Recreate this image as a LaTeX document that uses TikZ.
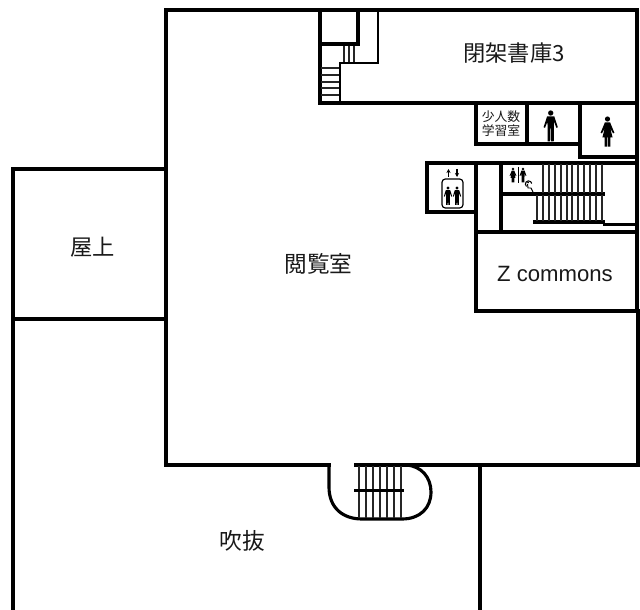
\documentclass[tikz,border=0pt]{standalone}
\usepackage{fontspec}
\usetikzlibrary{arrows.meta}
\setmainfont{Liberation Sans}
\newfontfamily\jp{Noto Sans CJK JP}
\tikzset{
  wall/.style={line width=2.35pt,line cap=rect,line join=miter,draw=black},
  midwall/.style={line width=2pt,draw=black},
  tread/.style={line width=0.8pt,draw=black!85},
  label/.style={inner sep=0pt,text=black!90}
}
\newcommand{\man}[3]{% x,y(head centre),scale
  \begin{scope}[shift={(#1,#2)},scale=#3]
    \fill (0,0) circle (2.8);
    \fill (-3.8,3.6) -- (3.8,3.6) -- (7.5,15) -- (6,15.6) -- (3.4,9) -- (3.2,30) -- (0.5,30) -- (0.3,16) -- (-0.3,16) -- (-0.5,30) -- (-3.2,30) -- (-3.4,9) -- (-6,15.6) -- (-7.5,15) -- cycle;
  \end{scope}}
\newcommand{\woman}[3]{%
  \begin{scope}[shift={(#1,#2)},scale=#3]
    \fill (0,0) circle (2.8);
    \fill (-2.8,3.6) -- (2.8,3.6) -- (7.5,15) -- (6,15.6) -- (3,10) -- (5.5,20) -- (3.2,20) -- (3.2,30) -- (0.5,30) -- (0.5,20) -- (-0.5,20) -- (-0.5,30) -- (-3.2,30) -- (-3.2,20) -- (-5.5,20) -- (-3,10) -- (-6,15.6) -- (-7.5,15) -- cycle;
  \end{scope}}
\begin{document}
\begin{tikzpicture}[x=0.75pt,y=-0.75pt]
\useasboundingbox (0,0) rectangle (640,610);
\fill[white] (0,0) rectangle (640,610);
% outer walls
\draw[wall] (329,465) -- (166,465) -- (166,10) -- (637,10) -- (637,311);
\draw[wall] (356,465) -- (638,465) -- (638,311);
\draw[wall] (166,169) -- (13,169) -- (13,610);
\draw[wall] (13,319) -- (166,319);
\draw[wall] (480,465) -- (480,610);
% stack room
\draw[wall] (320,10) -- (320,103) -- (637,103);
\draw[wall] (320,44) -- (358,44) -- (358,10);
\draw[midwall] (378,10) -- (378,63) -- (340,63) -- (340,103);
\foreach \x in {344,349,354} \draw[tread] (\x,46) -- (\x,62);
\foreach \y in {68,75,82,88,95} \draw[tread] (321,\y) -- (339,\y);
% small rooms
\draw[wall] (476,103) -- (476,144) -- (580,144);
\draw[wall] (527,103) -- (527,144);
\draw[wall] (580,103) -- (580,157) -- (637,157);
% lift and stair
\draw[wall] (476,163) -- (427,163) -- (427,212) -- (476,212);
\draw[wall] (476,163) -- (637,163);
\draw[wall] (476,163) -- (476,232);
\draw[wall] (501,163) -- (501,232);
\draw[wall] (501,194) -- (603,194);
\draw[wall] (535,222) -- (603,222);
\draw[midwall] (603,224.5) -- (637,224.5);
\foreach \x in {543,549,555,561,567,572,578,584,590,596,602} \draw[tread] (\x,164) -- (\x,193);
\foreach \x in {537,543,549,555,561,567,572,578,584,590,596,602} \draw[tread] (\x,195) -- (\x,221);
% Z commons
\draw[wall] (476,232) -- (637,232);
\draw[wall] (476,232) -- (476,311) -- (637,311);
% lower curved stair
\draw[wall] (329,465) -- (329,487) .. controls (329,508) and (343,519) .. (362,519) -- (402,519) .. controls (420,519) and (431,508) .. (431,492) .. controls (431,478) and (422,466) .. (406,465);
\foreach \x in {359,366,373,380,387,394,401} \draw[tread] (\x,466) -- (\x,518);
\draw[wall] (356,490.5) -- (402,490.5);
% labels
\node[label,font=\jp\fontsize{16.7pt}{18pt}\selectfont] (closed) at (514,53) {閉架書庫3};
\node[label,font=\jp\fontsize{9.6pt}{10.6pt}\selectfont,align=center] (study) at (501,124) {少人数\\学習室};
\node[label,font=\jp\fontsize{16.7pt}{18pt}\selectfont] (roof) at (92.5,247) {屋上};
\node[label,font=\jp\fontsize{17pt}{18pt}\selectfont] (reading) at (318.5,264) {閲覧室};
\node[label,font=\jp\fontsize{17pt}{18pt}\selectfont] (atrium) at (242,541) {吹抜};
\node[label,font=\fontsize{16.6pt}{18pt}\selectfont] (zc) at (555,274) {Z commons};
% pictograms
\man{550.7}{113}{0.95}
\woman{607.5}{119}{0.92}
% lift pictogram
\draw[line width=0.9pt,rounded corners=2.5pt] (442,179) rectangle (463,208);
\man{448}{188}{0.56}
\man{457}{188}{0.56}
\draw[line width=0.8pt,-{Stealth[length=3pt,width=3pt]}] (448.5,177) -- (448.5,169);
\draw[line width=0.8pt,-{Stealth[length=3pt,width=3pt]}] (457,169) -- (457,177);
% WC pictogram
\woman{513}{169}{0.45}
\man{523}{169}{0.45}
\draw[line width=0.6pt] (518,167) -- (518,183);
% wheelchair
\fill (528,182.5) circle (1);
\draw[line width=0.7pt] (527.5,184) -- (528,188) -- (531,188) -- (533,192);
\draw[line width=0.8pt] (526.5,186.5) arc[start angle=130,end angle=350,radius=3.2];
\end{tikzpicture}
\end{document}
